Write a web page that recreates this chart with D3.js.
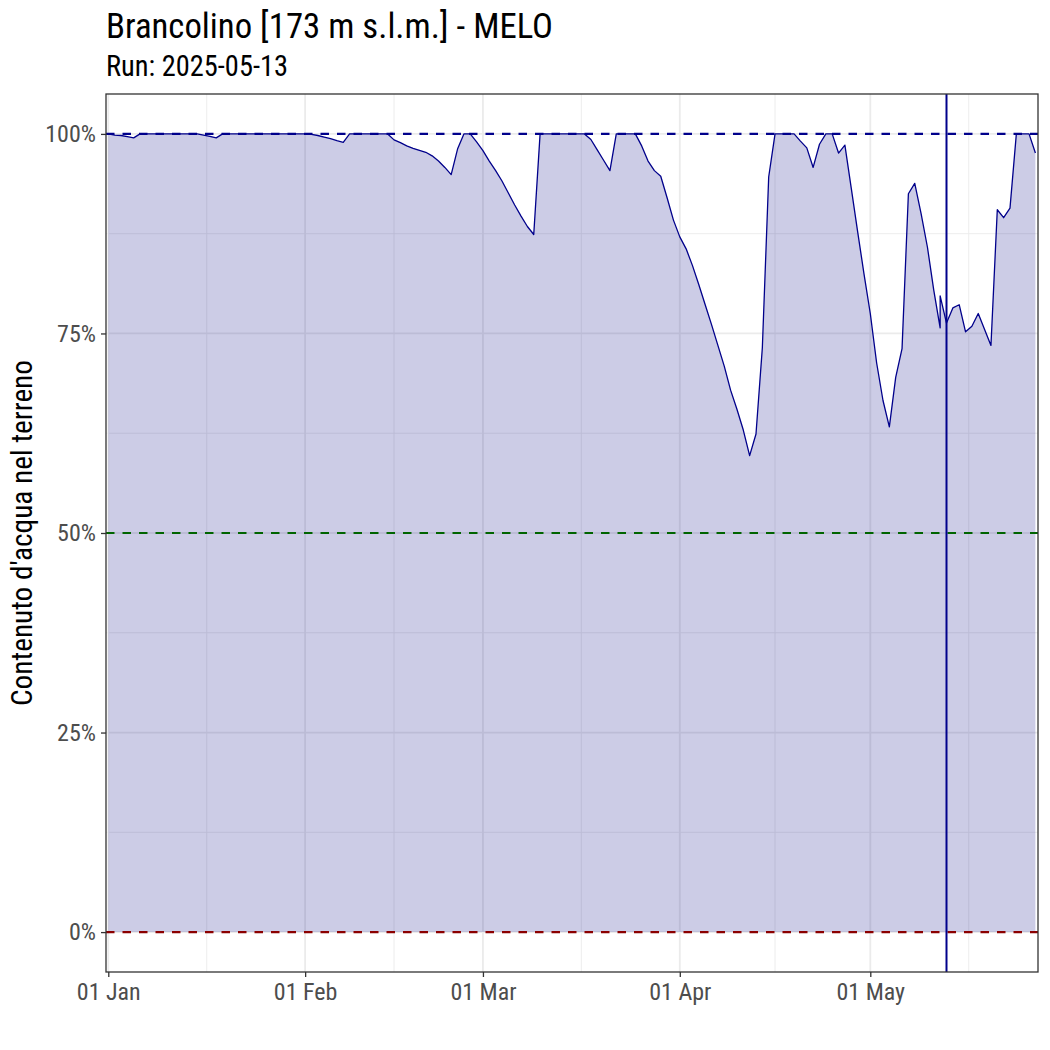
<!DOCTYPE html>
<html><head><meta charset="utf-8">
<script src="https://cdn.jsdelivr.net/npm/d3@7"></script>
<style>
body{margin:0;background:#fff}
svg{display:block}
text{font-family:"Roboto Condensed","Roboto",sans-serif}
</style>
</head><body>
<svg id="chart" width="1050" height="1050"></svg>
<script>
// ---------------- DATA ----------------
const chartTitle = "Brancolino [173 m s.l.m.] - MELO";
const chartSubtitle = "Run: 2025-05-13";
const yAxisTitle = "Contenuto d'acqua nel terreno";
const runDate = "2025-05-13";

// month starts, one daily value per day following each start
const monthStarts = ["2025-01-01", "2025-02-01", "2025-03-01", "2025-04-01", "2025-05-01"];
const janValues = [100, 99.85, 99.8, 99.65, 99.5, 100, 100, 100, 100, 100, 100, 100, 100, 100, 100, 99.85,
  99.7, 99.5, 100, 100, 100, 100, 100, 100, 100, 100, 100, 100, 100, 100, 100];
const febValues = [100, 99.95, 99.8, 99.6, 99.4, 99.15, 98.95, 100, 100, 100, 100, 100, 100, 100, 99.25,
  98.9, 98.5, 98.2, 97.95, 97.7, 97.25, 96.6, 95.8, 94.9, 98.1, 100, 100, 99.0];
const marValues = [97.9, 96.6, 95.4, 94.1, 92.6, 91.1, 89.7, 88.4, 87.4, 100, 100, 100, 100, 100, 100, 100,
  100, 99.3, 98.0, 96.7, 95.4, 100, 100, 100, 100, 98.5, 96.6, 95.4, 94.7, 92.0, 89.2];
const aprValues = [87.1, 85.6, 83.5, 81.1, 78.6, 76.1, 73.5, 70.9, 67.9, 65.5, 62.9, 59.7, 62.4, 73.2, 94.6,
  100, 100, 100, 100, 99.1, 98.25, 95.8, 98.7, 100, 100, 97.6, 98.6, 93.2, 87.8, 82.5];
const mayValues = [77.5, 71.3, 66.6, 63.3, 69.5, 73.1, 92.5, 93.8, 90.0, 85.8, 80.4, 75.7, 76.3, 78.2, 78.6,
  75.2, 75.9, 77.5, 75.5, 73.5, 90.5, 89.5, 90.7, 100, 100, 100, 97.6];
// second value reported on the same day (series restart)
const extraDate = "2025-05-12";
const extraValue = 79.7;

const yTickValues = [0, 25, 50, 75, 100];
const yMinorValues = [12.5, 37.5, 62.5, 87.5];
const xTickDates = ["2025-01-01", "2025-02-01", "2025-03-01", "2025-04-01", "2025-05-01"];
const xMinorDates = ["2025-01-16T12:00", "2025-02-15T00:00", "2025-03-16T12:00", "2025-04-16T00:00", "2025-05-16T12:00"];
const refLineValues = [100, 50, 0];
const refLineColors = ["#00008B", "#006400", "#8B0000"];

// ---------------- SETUP ----------------
const parseD = d3.utcParse("%Y-%m-%d");
const parseT = d3.utcParse("%Y-%m-%dT%H:%M");
const monthly = [janValues, febValues, marValues, aprValues, mayValues];
const data = [];
monthStarts.forEach((m, i) => {
  const s = parseD(m);
  monthly[i].forEach((v, j) => {
    const dt = d3.utcDay.offset(s, j);
    data.push({date: dt, value: v});
    if (+dt === +parseD(extraDate)) data.push({date: new Date(+dt + 1), value: extraValue});
  });
});

const W = 1050, H = 1050;
const panel = {left: 106, right: 1038, top: 94, bottom: 972};
const svg = d3.select("#chart");

const x = d3.scaleUtc()
  .domain([parseT("2024-12-31T15:22"), parseT("2025-05-27T09:50")])
  .range([panel.left, panel.right]);
const y = d3.scaleLinear().domain([-5, 105]).range([panel.bottom, panel.top]);

svg.append("rect").attr("width", W).attr("height", H).attr("fill", "#fff");

// grid
const grid = svg.append("g");
grid.selectAll(".ymin").data(yMinorValues).join("line")
  .attr("x1", panel.left).attr("x2", panel.right)
  .attr("y1", d => y(d)).attr("y2", d => y(d))
  .attr("stroke", "#EBEBEB").attr("stroke-width", 0.9);
grid.selectAll(".xmin").data(xMinorDates).join("line")
  .attr("y1", panel.top).attr("y2", panel.bottom)
  .attr("x1", d => x(parseT(d))).attr("x2", d => x(parseT(d)))
  .attr("stroke", "#EBEBEB").attr("stroke-width", 0.9);
grid.selectAll(".ymaj").data(yTickValues).join("line")
  .attr("x1", panel.left).attr("x2", panel.right)
  .attr("y1", d => y(d)).attr("y2", d => y(d))
  .attr("stroke", "#EBEBEB").attr("stroke-width", 1.8);
grid.selectAll(".xmaj").data(xTickDates).join("line")
  .attr("y1", panel.top).attr("y2", panel.bottom)
  .attr("x1", d => x(parseD(d))).attr("x2", d => x(parseD(d)))
  .attr("stroke", "#EBEBEB").attr("stroke-width", 1.8);

// area + line
const area = d3.area().x(d => x(d.date)).y0(y(0)).y1(d => y(d.value));
const line = d3.line().x(d => x(d.date)).y(d => y(d.value));
svg.append("path").datum(data).attr("d", area)
  .attr("fill", "#000080").attr("fill-opacity", 0.2);
svg.append("path").datum(data).attr("d", line)
  .attr("fill", "none").attr("stroke", "#00008B").attr("stroke-width", 1.3)
  .attr("stroke-linejoin", "round");

// reference lines
svg.selectAll(".ref").data(refLineValues).join("line")
  .attr("x1", panel.left).attr("x2", panel.right)
  .attr("y1", d => y(d)).attr("y2", d => y(d))
  .attr("stroke", (d, i) => refLineColors[i]).attr("stroke-width", 2.2)
  .attr("stroke-dasharray", "8.5,8");

// run date vertical line
svg.append("line")
  .attr("x1", x(parseD(runDate))).attr("x2", x(parseD(runDate)))
  .attr("y1", panel.top).attr("y2", panel.bottom)
  .attr("stroke", "#00008B").attr("stroke-width", 2);

// panel border
svg.append("rect").attr("x", panel.left).attr("y", panel.top)
  .attr("width", panel.right - panel.left).attr("height", panel.bottom - panel.top)
  .attr("fill", "none").attr("stroke", "#333333").attr("stroke-width", 1.3);

// axes
const yAxis = svg.append("g").attr("transform", `translate(${panel.left},0)`)
  .call(d3.axisLeft(y).tickValues(yTickValues).tickFormat(d => d + "%").tickSize(5).tickPadding(5));
const xAxis = svg.append("g").attr("transform", `translate(0,${panel.bottom})`)
  .call(d3.axisBottom(x).tickValues(xTickDates.map(parseD)).tickFormat(d3.utcFormat("%d %b")).tickSize(5).tickPadding(6));
[yAxis, xAxis].forEach(g => {
  g.select(".domain").remove();
  g.selectAll(".tick line").attr("stroke", "#333333").attr("stroke-width", 1.3);
  g.selectAll(".tick text").attr("fill", "#4D4D4D").style("font-size", "24px")
    .attr("font-family", null);
});

// titles
const tTitle = svg.append("text").attr("x", 106).attr("y", 38)
  .style("font-size", "35px").attr("fill", "#000").text(chartTitle);
const tSub = svg.append("text").attr("x", 106).attr("y", 76)
  .style("font-size", "28.8px").attr("fill", "#000").text(chartSubtitle);
const tY = svg.append("text").attr("transform", `translate(32,${(panel.top + panel.bottom) / 2}) rotate(-90)`)
  .attr("text-anchor", "middle").style("font-size", "29.5px").attr("fill", "#000").text(yAxisTitle);

// match the text widths of the original
function fit(sel, target) {
  sel.attr("textLength", target).attr("lengthAdjust", "spacingAndGlyphs");
}
fit(tTitle, 447);
fit(tSub, 182);
fit(tY, 346);
</script>
</body></html>
